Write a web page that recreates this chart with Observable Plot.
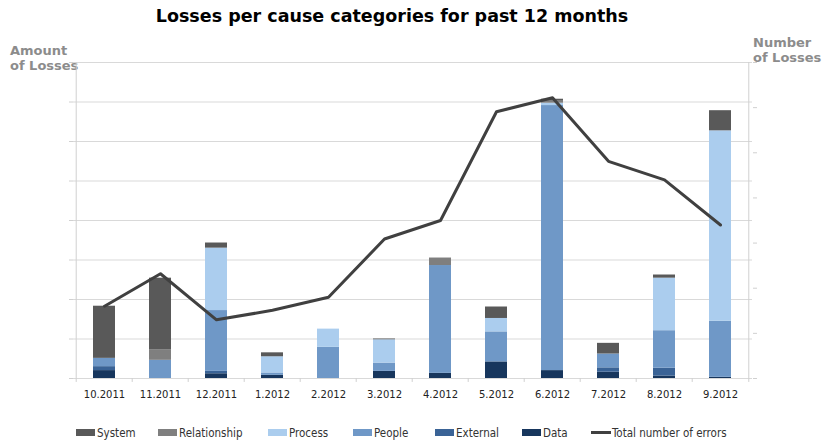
<!DOCTYPE html>
<html>
<head>
<meta charset="utf-8">
<script src="https://cdn.jsdelivr.net/npm/d3@7"></script>
<script src="https://cdn.jsdelivr.net/npm/@observablehq/plot@0.6"></script>
<style>
  html, body { margin: 0; padding: 0; background: #fff; }
  #wrap { position: relative; width: 825px; height: 444px; overflow: hidden; }
  #chart { position: absolute; left: 0; top: 0; }
  .title { position: absolute; left: 0; width: 784px; top: 6px; text-align: center;
           font: bold 17.5px "DejaVu Sans", Verdana, sans-serif; color: #000; }
  .atitle { position: absolute; font: bold 13px "DejaVu Sans", Verdana, sans-serif; color: #8c8c8c; line-height: 15px; }
  .leg { position: absolute; top: 426px; font: 11.5px "Liberation Sans Narrow", "DejaVu Sans Condensed", sans-serif; color: #333; white-space: nowrap; }
  .sw { display: inline-block; width: 19px; height: 7px; vertical-align: middle; margin-right: 2px; position: relative; top: -1px; }
  .ln { display: inline-block; width: 20px; height: 3px; vertical-align: middle; margin-right: 1px; background: #404040; position: relative; top: -1px; }
</style>
</head>
<body>
<div id="wrap">
  <div class="title">Losses per cause categories for past 12 months</div>
  <div class="atitle" style="left:10px; top:43px;">Amount<br>of Losses</div>
  <div class="atitle" style="left:753px; top:35px;">Number<br>of Losses</div>
  <div id="chart"></div>
  <div id="legend"></div>
</div>
<script>
const months = ["10.2011","11.2011","12.2011","1.2012","2.2012","3.2012","4.2012","5.2012","6.2012","7.2012","8.2012","9.2012"];
const causes = ["Data","External","People","Process","Relationship","System"];
const dataLoss         = [0.20, 0.00, 0.12, 0.08, 0.00, 0.18, 0.13, 0.42, 0.20, 0.16, 0.06, 0.03];
const externalLoss     = [0.10, 0.00, 0.06, 0.00, 0.00, 0.00, 0.00, 0.00, 0.00, 0.11, 0.20, 0.00];
const peopleLoss       = [0.21, 0.46, 1.54, 0.06, 0.79, 0.21, 2.73, 0.76, 6.71, 0.35, 0.95, 1.42];
const processLoss      = [0.00, 0.00, 1.58, 0.41, 0.46, 0.59, 0.00, 0.34, 0.06, 0.00, 1.33, 4.82];
const relationshipLoss = [0.00, 0.27, 0.00, 0.00, 0.00, 0.00, 0.19, 0.00, 0.05, 0.00, 0.00, 0.00];
const systemLoss       = [1.32, 1.81, 0.13, 0.10, 0.00, 0.02, 0.00, 0.29, 0.05, 0.27, 0.08, 0.51];
const totalErrors      = [1.60, 2.32, 1.30, 1.51, 1.80, 3.09, 3.50, 5.91, 6.22, 4.81, 4.40, 3.40];
const leftTicks  = [0,1,2,3,4,5,6,7,8];
const rightTicks = [0,1,2,3,4,5,6,7];
const leftMax = 8, rightMax = 7;

const colors = {Data:"#17365d", External:"#3a6396", People:"#6f98c7", Process:"#abcdee", Relationship:"#7f7f7f", System:"#595959"};
const series = {Data:dataLoss, External:externalLoss, People:peopleLoss, Process:processLoss, Relationship:relationshipLoss, System:systemLoss};

const rows = [];
for (const c of causes) months.forEach((m, i) => rows.push({month: m, cause: c, value: series[c][i]}));
const lineRows = months.map((m, i) => ({month: m, total: totalErrors[i]}));
const toLeft = v => v * leftMax / rightMax;

const W = 825, H = 444, ML = 73, MR = 73, MT = 62, MB = 66;
const step = (W - ML - MR) / months.length;

const chart = Plot.plot({
  width: W, height: H,
  marginLeft: ML, marginRight: MR, marginTop: MT, marginBottom: MB,
  style: {fontFamily: "DejaVu Sans, Verdana, sans-serif", fontSize: "10px", color: "#333", background: "transparent"},
  x: {domain: months, paddingInner: 0.6, paddingOuter: 0.3, axis: null, label: null},
  y: {domain: [0, leftMax], axis: null, label: null},
  color: {domain: causes, range: causes.map(c => colors[c])},
  marks: [
    Plot.ruleY(leftTicks, {stroke: "#d9d9d9", strokeWidth: 1}),
    Plot.ruleX([months[0]], {dx: -step / 2, y1: -0.1, y2: leftMax, stroke: "#d0d0d0"}),
    Plot.ruleX([months[months.length - 1]], {dx: step / 2, y1: -0.1, y2: leftMax, stroke: "#d0d0d0"}),
    Plot.axisY(leftTicks, {anchor: "left", tickSize: 4, tickFormat: () => "", stroke: "#d0d0d0", label: null}),
    Plot.axisY(rightTicks.map(toLeft), {anchor: "right", tickSize: 4, tickFormat: () => "", stroke: "#d0d0d0", label: null}),
    Plot.ruleX(months.slice(1), {dx: -step / 2, y1: -0.1, y2: 0, stroke: "#d0d0d0"}),
    Plot.axisX({anchor: "bottom", tickSize: 0, tickPadding: 12, fontSize: 10, fill: "#222", label: null}),
    Plot.barY(rows, {x: "month", y: "value", fill: "cause", order: causes}),
    Plot.line(lineRows, {x: "month", y: d => toLeft(d.total), stroke: "#404040", strokeWidth: 3})
  ]
});
document.getElementById("chart").appendChild(chart);

const legendItems = [
  {name: "System", x: 76}, {name: "Relationship", x: 158}, {name: "Process", x: 268},
  {name: "People", x: 353}, {name: "External", x: 435}, {name: "Data", x: 522}
];
const leg = document.getElementById("legend");
for (const it of legendItems) {
  const d = document.createElement("div");
  d.className = "leg"; d.style.left = it.x + "px";
  d.innerHTML = `<span class="sw" style="background:${colors[it.name]}"></span>${it.name}`;
  leg.appendChild(d);
}
const dl = document.createElement("div");
dl.className = "leg"; dl.style.left = "591px";
dl.innerHTML = `<span class="ln"></span>Total number of errors`;
leg.appendChild(dl);
</script>
</body>
</html>
